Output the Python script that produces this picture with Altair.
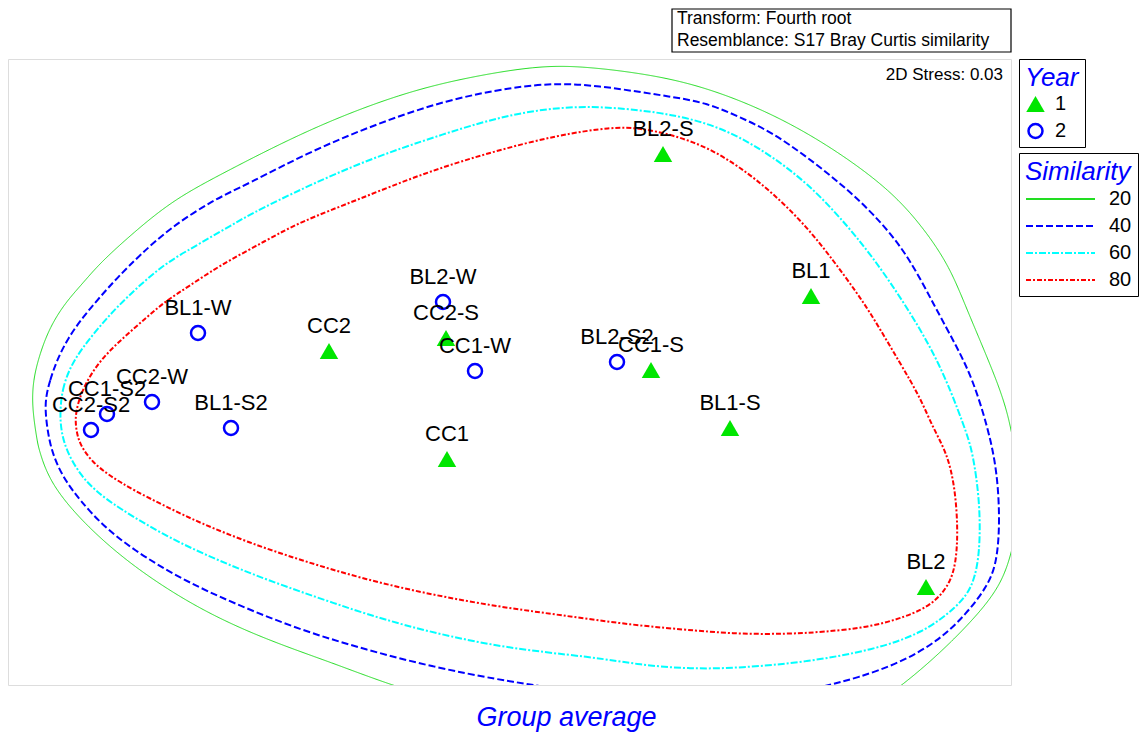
import altair as alt
import pandas as pd

FONT = "Liberation Sans"

# ---- nMDS sample positions (plot units: x 0..1003, y 0..626) ----
sample_names = ["BL2-S", "BL1", "BL2-W", "CC2-S", "BL1-W", "CC2", "CC1-W", "BL2-S2",
                "CC1-S", "CC2-W", "CC1-S2", "CC2-S2", "BL1-S2", "BL1-S", "CC1", "BL2"]
sample_year = ["1", "1", "2", "1", "2", "1", "2", "2",
               "1", "2", "2", "2", "2", "1", "1", "1"]
sample_x = [655, 803, 435, 438, 190, 321, 467, 609, 643, 144, 99, 83, 223, 722, 439, 918]
sample_y = [531, 389, 383, 347, 352, 334, 314, 323, 315, 283, 271, 255, 257, 257, 226, 98]

# ---- similarity contours (closed outlines, traced clockwise) ----
sim_levels = ["20", "40", "60", "80"]
sim_colors = ["#22dd22", "#0000ff", "#00ffff", "#ff0000"]
sim_dashes = [[1, 0], [7, 3], [7, 2, 2, 2], [5, 2, 2, 2]]

c20_x = [24, 25, 32, 42, 57, 75, 92, 125, 165, 215, 305, 394, 461, 528, 572, 632, 682, 732,
         782, 832, 882, 915, 942, 959, 989, 1002, 1010, 1012, 1004, 992, 965, 932, 895, 852,
         632, 450, 382, 325, 259, 192, 125, 75, 42, 31, 29]
c20_y = [278, 305, 332, 358, 382, 402, 422, 452, 485, 512, 558, 592, 608, 619, 619, 612, 602, 585,
         562, 532, 495, 458, 418, 375, 305, 265, 215, 175, 132, 98, 65, 32, 0, -30,
         -50, -20, 0, 22, 45, 75, 118, 162, 202, 235, 245]

c40_x = [37, 42, 49, 60, 75, 92, 109, 132, 162, 205, 238, 305, 371, 438, 505, 550, 592, 632,
         665, 699, 732, 765, 799, 832, 865, 899, 927, 949, 965, 980, 989, 992, 989, 979, 959,
         932, 892, 849, 817, 772, 692, 612, 527, 492, 425, 359, 292, 225, 175, 125, 92, 72,
         59, 49, 42, 38]
c40_y = [285, 305, 325, 347, 368, 388, 407, 430, 457, 485, 500, 535, 562, 585, 598, 602, 599, 593,
         588, 582, 568, 552, 528, 502, 472, 432, 378, 338, 305, 257, 215, 165, 122, 98, 72,
         45, 22, 7, -1, -12, -20, -15, 0, 5, 18, 35, 55, 82, 105, 135, 162, 185,
         202, 220, 240, 265]

c60_x = [52, 54, 62, 75, 92, 109, 132, 159, 193, 232, 260, 349, 438, 505, 572, 632, 665, 699,
         732, 765, 799, 832, 865, 899, 932, 957, 965, 972, 972, 965, 949, 915, 865, 799, 732,
         682, 632, 586, 492, 392, 325, 259, 209, 159, 109, 89, 72, 58, 53]
c60_y = [272, 295, 318, 338, 359, 378, 400, 423, 442, 465, 480, 522, 552, 572, 580, 575, 570, 562,
         548, 528, 502, 468, 428, 378, 322, 257, 232, 182, 132, 98, 78, 52, 35, 23, 17,
         16, 20, 28, 37, 60, 82, 105, 125, 148, 178, 193, 210, 235, 255]

c80_x = [67, 75, 92, 115, 139, 159, 180, 209, 259, 292, 349, 416, 483, 550, 604, 632, 665, 699,
         732, 765, 799, 825, 849, 865, 892, 912, 925, 939, 947, 950, 948, 942, 929, 909, 865,
         815, 779, 732, 692, 623, 552, 492, 425, 359, 292, 242, 192, 159, 125, 102, 84, 72, 68]
c80_y = [272, 298, 325, 347, 368, 385, 398, 418, 445, 463, 485, 512, 533, 550, 558, 557, 550, 538,
         518, 492, 458, 425, 392, 368, 322, 288, 257, 232, 198, 155, 122, 102, 85, 72, 58,
         53, 51, 51, 54, 60, 70, 78, 90, 105, 125, 142, 162, 178, 195, 209, 223, 240, 255]

contour_x = {"20": c20_x, "40": c40_x, "60": c60_x, "80": c80_x}
contour_y = {"20": c20_y, "40": c40_y, "60": c60_y, "80": c80_y}

points = pd.DataFrame({"Sample": sample_names, "Year": sample_year,
                       "x": sample_x, "y": sample_y})
rows = []
for lvl in sim_levels:
    for i, (a, b) in enumerate(zip(contour_x[lvl], contour_y[lvl])):
        rows.append({"Similarity": lvl, "order": i, "x": a, "y": b})
contours = pd.DataFrame(rows)

xs = alt.Scale(domain=[0, 1003], nice=False, zero=False)
ys = alt.Scale(domain=[0, 626], nice=False, zero=False)
X = alt.X("x:Q", scale=xs, axis=None)
Y = alt.Y("y:Q", scale=ys, axis=None)

sim_legend = alt.Legend(
    title="Similarity", orient="none", legendX=1011, legendY=94,
    titleColor="#0000ff", titleFontStyle="italic", titleFontWeight="normal",
    titleFontSize=26, titleFont=FONT, labelFont=FONT, labelFontSize=20, labelColor="black",
    symbolType="stroke", symbolSize=4761, clipHeight=20, symbolStrokeWidth=2,
    strokeColor="black", fillColor="white", padding=6, rowPadding=7, titlePadding=4,
    labelOffset=13, cornerRadius=0)

year_legend = alt.Legend(
    title="Year", orient="none", legendX=1011, legendY=0,
    titleColor="#0000ff", titleFontStyle="italic", titleFontWeight="normal",
    titleFontSize=26, titleFont=FONT, labelFont=FONT, labelFontSize=20, labelColor="black",
    symbolStrokeWidth=2.5, strokeColor="black", fillColor="white", padding=6,
    clipHeight=20, rowPadding=7, titlePadding=3, labelOffset=9, cornerRadius=0)

stroke_enc = alt.Stroke("Similarity:N", scale=alt.Scale(domain=sim_levels, range=sim_colors),
                        legend=sim_legend)
dash_enc = alt.StrokeDash("Similarity:N", scale=alt.Scale(domain=sim_levels, range=sim_dashes),
                          legend=sim_legend)

green_line = alt.Chart(contours).transform_filter(alt.datum.Similarity == "20").mark_line(
    clip=True, interpolate="basis-closed", strokeWidth=1).encode(
    x=X, y=Y, order="order:Q", stroke=stroke_enc, strokeDash=dash_enc)

other_lines = alt.Chart(contours).transform_filter(alt.datum.Similarity != "20").mark_line(
    clip=True, interpolate="basis-closed", strokeWidth=2).encode(
    x=X, y=Y, order="order:Q", stroke=stroke_enc, strokeDash=dash_enc)

yr_dom = ["1", "2"]
pts = alt.Chart(points).mark_point(filled=False, strokeWidth=2.5, opacity=1).encode(
    x=X, y=Y,
    shape=alt.Shape("Year:N", scale=alt.Scale(domain=yr_dom, range=["triangle-up", "circle"]),
                    legend=year_legend),
    fill=alt.Fill("Year:N", scale=alt.Scale(domain=yr_dom, range=["#00e600", "transparent"]),
                  legend=year_legend),
    color=alt.Color("Year:N", scale=alt.Scale(domain=yr_dom, range=["transparent", "#0000ff"]),
                    legend=year_legend),
    size=alt.Size("Year:N", scale=alt.Scale(domain=yr_dom, range=[340, 196]),
                  legend=year_legend),
)

labels = alt.Chart(points).mark_text(dy=-25, fontSize=22, font=FONT, color="black",
                                     baseline="middle").encode(x=X, y=Y, text="Sample:N")

stress = alt.Chart(pd.DataFrame({"t": ["2D Stress: 0.03"]})).mark_text(
    align="right", baseline="middle", fontSize=17, font=FONT, color="black").encode(
    x=alt.value(995), y=alt.value(16), text="t:N")

info_box = alt.Chart(pd.DataFrame({"t": ["box"]})).mark_rect(
    fill="white", stroke="black", strokeWidth=1.2, clip=False).encode(
    x=alt.value(664), x2=alt.value(1003), y=alt.value(-50), y2=alt.value(-7))

info1 = alt.Chart(pd.DataFrame({"t": ["Transform: Fourth root"]})).mark_text(
    align="left", baseline="middle", fontSize=17.5, font=FONT, color="black").encode(
    x=alt.value(669), y=alt.value(-40), text="t:N")
info2 = alt.Chart(pd.DataFrame({"t": ["Resemblance: S17 Bray Curtis similarity"]})).mark_text(
    align="left", baseline="middle", fontSize=17.5, font=FONT, color="black").encode(
    x=alt.value(669), y=alt.value(-18), text="t:N")

chart = alt.layer(green_line, other_lines, pts, labels, stress, info_box, info1, info2).properties(
    width=1003, height=626,
    autosize=alt.AutoSizeParams(type="none"),
    padding={"left": 0, "top": 51, "right": 128, "bottom": 47},
    title=alt.TitleParams("Group average", orient="bottom", anchor="middle", frame="group",
                          dx=57, offset=20, fontSize=27, font=FONT, fontStyle="italic",
                          fontWeight="normal", color="#0000ff"),
).configure_view(stroke="#606060", strokeWidth=1.5, fill="white").configure(background="white")

chart.save("out.html", embed_options={"renderer": "svg", "actions": False})
